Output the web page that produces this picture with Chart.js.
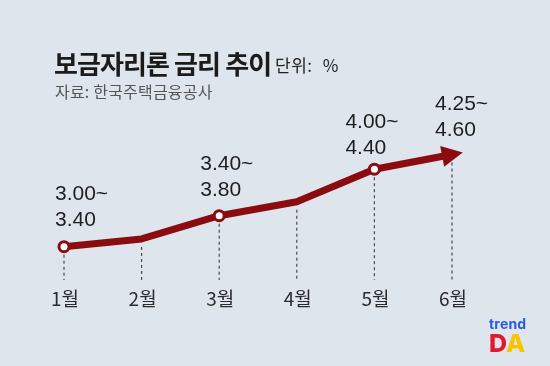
<!DOCTYPE html>
<html><head><meta charset="utf-8">
<script src="https://cdn.jsdelivr.net/npm/chart.js@4.4.1/dist/chart.umd.min.js"></script>
<style>
html,body{margin:0;padding:0;background:#dfe5ec;}
#wrap{position:relative;width:550px;height:366px;overflow:hidden;background:#dfe5ec;}
canvas{position:absolute;left:0;top:0;}
.t{position:absolute;white-space:nowrap;font-family:"Noto Sans CJK KR","Noto Sans",sans-serif;line-height:1;}
</style></head><body>
<div id="wrap">
<canvas id="c" width="550" height="366"></canvas>
<div class="t" style="left:54px;top:50px;font-size:26px;font-weight:700;color:#1b1b1b;letter-spacing:-0.9px">보금자리론 금리 추이</div>
<div class="t" style="left:275px;top:56px;font-size:17px;color:#222;letter-spacing:0.5px;word-spacing:6px">단위: %</div>
<div class="t" style="left:55px;top:83px;font-size:16px;color:#555;letter-spacing:0.2px">자료: 한국주택금융공사</div>
<div class="t" style="left:489px;top:317px;font-size:14px;font-weight:700;color:#2a5be0;font-family:'Inter','Roboto',sans-serif;letter-spacing:0.2px">trend</div>
<div class="t" style="left:489px;top:331px;font-size:25px;font-weight:800;font-family:'Inter','Roboto',sans-serif;"><span style="color:#e3192b">D</span><span style="color:#f6c500">A</span></div>
</div>
<script>
const months = ['1월', '2월', '3월', '4월', '5월', '6월'];
const rates = [3.00, 3.10, 3.40, 3.58, 4.00, 4.19];
const rangeLabels = [['3.00~', '3.40'], null, ['3.40~', '3.80'], null, ['4.00~', '4.40'], ['4.25~', '4.60']];
const showMarker = [true, false, true, false, true, false];

const RED = '#8a0c10';
const labelOffsets = [[-9, -26], null, [-19, -25], null, [-29, -21], [-17, -24]];

const deco = {
  id: 'deco',
  beforeDatasetsDraw(chart) {
    const ctx = chart.ctx;
    const pts = chart.getDatasetMeta(0).data;
    ctx.save();
    ctx.strokeStyle = '#4a4a4a';
    ctx.lineWidth = 1.2;
    ctx.setLineDash([3, 3]);
    pts.forEach((p, i) => {
      ctx.beginPath();
      ctx.moveTo(p.x, p.y + 8);
      ctx.lineTo(p.x, 280);
      ctx.stroke();
    });
    ctx.restore();
    const xs = chart.scales.x;
    ctx.save();
    ctx.fillStyle = '#2b2b2b';
    ctx.font = '19px "Noto Sans CJK KR", sans-serif';
    ctx.textAlign = 'center';
    ctx.textBaseline = 'middle';
    months.forEach((m, i) => {
      ctx.fillText(m, xs.getPixelForValue(i) + 1, 299);
    });
    ctx.restore();
  },
  afterDatasetsDraw(chart) {
    const ctx = chart.ctx;
    const pts = chart.getDatasetMeta(0).data;
    const n = pts.length;
    const a = pts[n - 2], b = pts[n - 1];
    let dx = b.x - a.x, dy = b.y - a.y;
    const L = Math.hypot(dx, dy); dx /= L; dy /= L;
    const tip = [b.x + dx * 11, b.y + dy * 11];
    const base = [b.x - dx * 10, b.y - dy * 10];
    const hw = 10.5;
    ctx.save();
    ctx.fillStyle = RED;
    ctx.beginPath();
    ctx.moveTo(tip[0], tip[1]);
    ctx.lineTo(base[0] - dy * hw, base[1] + dx * hw);
    ctx.lineTo(base[0] + dy * hw, base[1] - dx * hw);
    ctx.closePath();
    ctx.fill();
    ctx.restore();
    ctx.save();
    ctx.fillStyle = '#1e1e1e';
    ctx.font = '21px "Liberation Sans", Arial, sans-serif';
    ctx.textAlign = 'left';
    ctx.textBaseline = 'middle';
    rangeLabels.forEach((lab, i) => {
      if (!lab) return;
      const p = pts[i];
      const o = labelOffsets[i];
      ctx.fillText(lab[0], p.x + o[0], p.y + o[1] - 26);
      ctx.fillText(lab[1], p.x + o[0], p.y + o[1]);
    });
    ctx.restore();
  }
};

new Chart(document.getElementById('c'), {
  type: 'line',
  data: {
    labels: months,
    datasets: [{
      data: rates,
      borderColor: RED,
      borderWidth: 7,
      borderJoinStyle: 'round',
      tension: 0,
      pointRadius: showMarker.map(s => s ? 5 : 0),
      pointBackgroundColor: '#ffffff',
      pointBorderColor: RED,
      pointBorderWidth: 3,
      pointHoverRadius: 0,
      clip: false
    }]
  },
  options: {
    responsive: false,
    animation: false,
    devicePixelRatio: 1,
    layout: { padding: { left: 64, right: 98, top: 91.7, bottom: 80.55 } },
    plugins: { legend: { display: false }, tooltip: { enabled: false }, title: { display: false } },
    scales: {
      x: { display: false, offset: false },
      y: { display: false, min: 2.5, max: 5.0 }
    },
    events: []
  },
  plugins: [deco]
});
</script>
</body></html>
